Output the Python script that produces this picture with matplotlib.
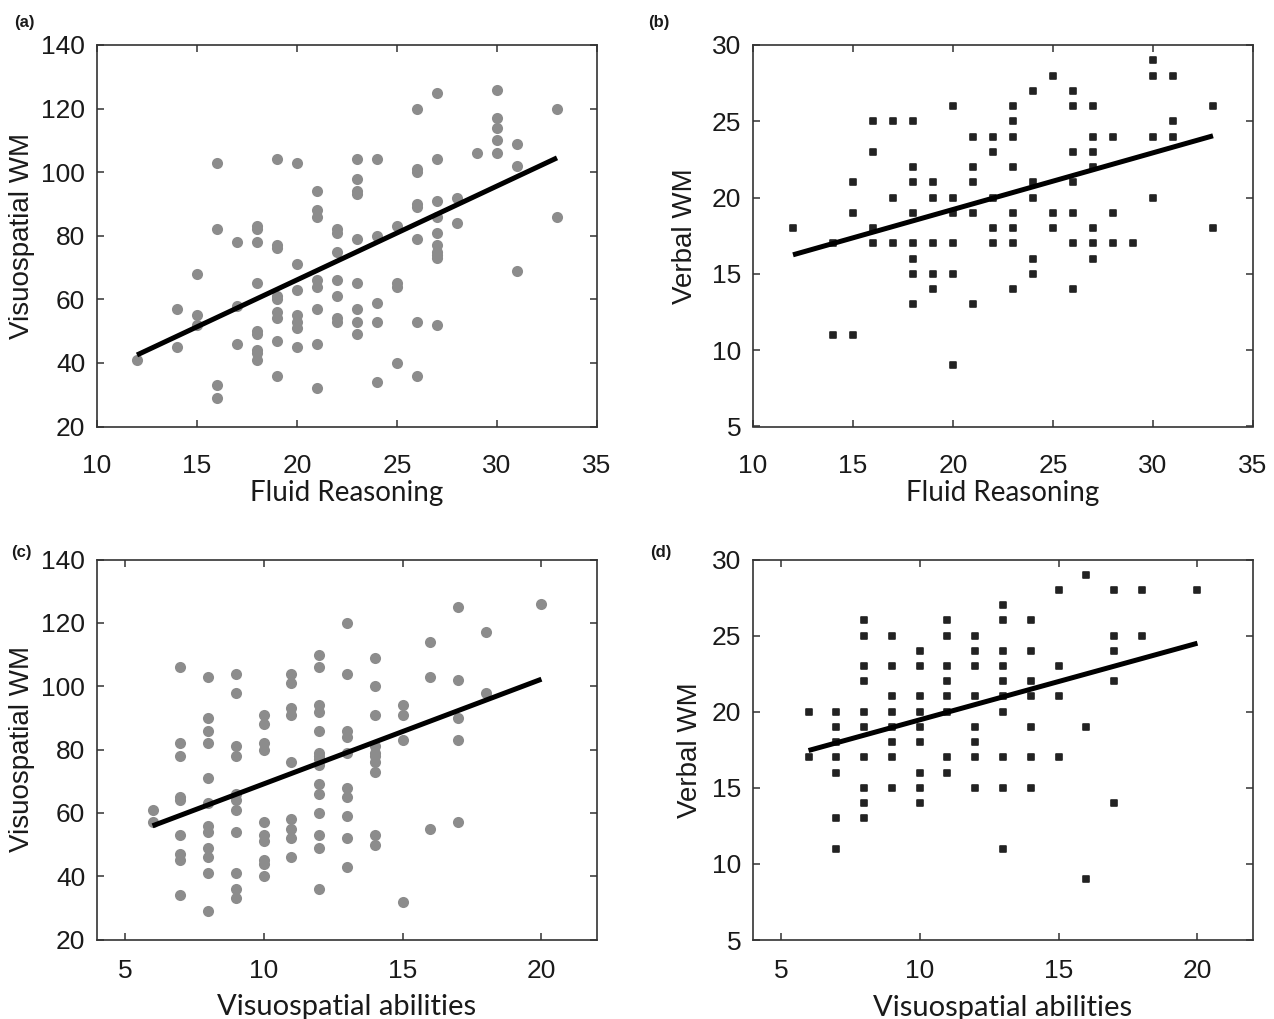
import matplotlib
matplotlib.use('Agg')
import matplotlib.pyplot as plt
from matplotlib.markers import MarkerStyle

plt.rcParams['font.family'] = ['Liberation Sans', 'DejaVu Sans']

# ---------------- data ----------------
# (a) Fluid Reasoning vs Visuospatial WM
a_x = [12,
       14, 14,
       15, 15, 15,
       16, 16, 16, 16,
       17, 17, 17,
       18, 18, 18, 18, 18, 18, 18, 18, 18,
       19, 19, 19, 19, 19, 19, 19, 19, 19,
       20, 20, 20, 20, 20, 20, 20,
       21, 21, 21, 21, 21, 21, 21, 21,
       22, 22, 22, 22, 22, 22, 22,
       23, 23, 23, 23, 23, 23, 23, 23, 23,
       24, 24, 24, 24, 24,
       25, 25, 25, 25,
       26, 26, 26, 26, 26, 26, 26, 26,
       27, 27, 27, 27, 27, 27, 27, 27, 27, 27,
       28, 28,
       29,
       30, 30, 30, 30, 30,
       31, 31, 31,
       33, 33]
a_y = [41,
       57, 45,
       68, 55, 52,
       103, 82, 33, 29,
       78, 58, 46,
       83, 82, 78, 65, 50, 49, 44, 43, 41,
       104, 77, 76, 61, 60, 56, 54, 47, 36,
       103, 71, 63, 55, 53, 51, 45,
       94, 88, 86, 66, 64, 57, 46, 32,
       82, 81, 75, 66, 61, 54, 53,
       104, 98, 94, 93, 79, 65, 57, 53, 49,
       104, 80, 59, 53, 34,
       83, 65, 64, 40,
       120, 101, 100, 90, 89, 79, 53, 36,
       125, 104, 91, 86, 81, 77, 75, 74, 73, 52,
       92, 84,
       106,
       126, 117, 114, 110, 106,
       109, 102, 69,
       120, 86]
a_fit_x = [12, 33]
a_fit_y = [42.5, 104.5]

# (b) Fluid Reasoning vs Verbal WM
b_x = [12,
       14, 14,
       15, 15, 15,
       16, 16, 16, 16,
       17, 17, 17,
       18, 18, 18, 18, 18, 18, 18, 18,
       19, 19, 19, 19, 19,
       20, 20, 20, 20, 20, 20,
       21, 21, 21, 21, 21,
       22, 22, 22, 22, 22,
       23, 23, 23, 23, 23, 23, 23, 23,
       24, 24, 24, 24, 24,
       25, 25, 25,
       26, 26, 26, 26, 26, 26, 26,
       27, 27, 27, 27, 27, 27, 27,
       28, 28, 28,
       29,
       30, 30, 30, 30,
       31, 31, 31,
       33, 33]
b_y = [18,
       17, 11,
       21, 19, 11,
       25, 23, 18, 17,
       25, 20, 17,
       25, 22, 21, 19, 17, 16, 15, 13,
       21, 20, 17, 15, 14,
       26, 20, 19, 17, 15, 9,
       24, 22, 21, 19, 13,
       24, 23, 20, 18, 17,
       26, 25, 24, 22, 19, 18, 17, 14,
       27, 21, 20, 16, 15,
       28, 19, 18,
       27, 26, 23, 21, 19, 17, 14,
       26, 24, 23, 22, 18, 17, 16,
       24, 19, 17,
       17,
       29, 28, 24, 20,
       28, 25, 24,
       26, 18]
b_fit_x = [12, 33]
b_fit_y = [16.25, 24.05]

# (c) Visuospatial abilities vs Visuospatial WM
c_x = [6, 6,
       7, 7, 7, 7, 7, 7, 7, 7, 7,
       8, 8, 8, 8, 8, 8, 8, 8, 8, 8, 8, 8,
       9, 9, 9, 9, 9, 9, 9, 9, 9, 9, 9,
       10, 10, 10, 10, 10, 10, 10, 10, 10, 10,
       11, 11, 11, 11, 11, 11, 11, 11, 11,
       12, 12, 12, 12, 12, 12, 12, 12, 12, 12, 12, 12, 12, 12, 12,
       13, 13, 13, 13, 13, 13, 13, 13, 13, 13,
       14, 14, 14, 14, 14, 14, 14, 14, 14, 14,
       15, 15, 15, 15,
       16, 16, 16,
       17, 17, 17, 17, 17,
       18, 18,
       20]
c_y = [61, 57,
       106, 82, 78, 65, 64, 53, 47, 45, 34,
       103, 90, 86, 82, 71, 63, 56, 54, 49, 46, 41, 29,
       104, 98, 81, 78, 66, 64, 61, 54, 41, 36, 33,
       91, 88, 82, 80, 57, 53, 51, 45, 44, 40,
       104, 101, 93, 91, 76, 58, 55, 52, 46,
       110, 106, 94, 92, 86, 79, 78, 77, 75, 69, 66, 60, 53, 49, 36,
       120, 104, 86, 84, 79, 68, 65, 59, 52, 43,
       109, 100, 91, 81, 79, 78, 76, 73, 53, 50,
       94, 91, 83, 32,
       114, 103, 55,
       125, 102, 90, 83, 57,
       117, 98,
       126]
c_fit_x = [6, 20]
c_fit_y = [55.9, 102.2]

# (d) Visuospatial abilities vs Verbal WM
d_x = [6, 6,
       7, 7, 7, 7, 7, 7, 7,
       8, 8, 8, 8, 8, 8, 8, 8, 8, 8,
       9, 9, 9, 9, 9, 9, 9, 9,
       10, 10, 10, 10, 10, 10, 10, 10, 10,
       11, 11, 11, 11, 11, 11, 11, 11,
       12, 12, 12, 12, 12, 12, 12, 12,
       13, 13, 13, 13, 13, 13, 13, 13, 13, 13,
       14, 14, 14, 14, 14, 14, 14,
       15, 15, 15, 15,
       16, 16, 16,
       17, 17, 17, 17, 17,
       18, 18,
       20]
d_y = [20, 17,
       20, 19, 18, 17, 16, 13, 11,
       26, 25, 23, 22, 20, 19, 17, 15, 14, 13,
       25, 23, 21, 20, 19, 18, 17, 15,
       24, 23, 21, 20, 19, 18, 16, 15, 14,
       26, 25, 23, 22, 21, 20, 17, 16,
       25, 24, 23, 21, 19, 18, 17, 15,
       27, 26, 24, 23, 22, 21, 20, 17, 15, 11,
       26, 24, 22, 21, 19, 17, 15,
       28, 23, 21, 17,
       29, 19, 9,
       28, 25, 24, 22, 14,
       28, 25,
       28]
d_fit_x = [6, 20]
d_fit_y = [17.45, 24.5]

fluid_ticks = [10, 15, 20, 25, 30, 35]
vis_ticks = [5, 10, 15, 20]
vswm_ticks = [20, 40, 60, 80, 100, 120, 140]
verbal_ticks = [5, 10, 15, 20, 25, 30]

# ---------------- figure ----------------
W, H = 1274, 1019
fig = plt.figure(figsize=(W / 100, H / 100), dpi=100)

def px_axes(l, t, r, b):
    return fig.add_axes([l / W, 1 - b / H, (r - l) / W, (b - t) / H])

ax_a = px_axes(97, 45, 597, 426.5)
ax_b = px_axes(753, 45, 1253, 426.5)
ax_c = px_axes(97, 559.5, 597, 939.5)
ax_d = px_axes(753, 559.5, 1253, 940)

GRAY = '#8c8c8c'
DARK = '#222222'
TXT = '#1a1a1a'

def style(ax, xlim, ylim, xticks, yticks, xpad):
    ax.set_xlim(xlim)
    ax.set_ylim(ylim)
    ax.set_xticks(xticks)
    ax.set_yticks(yticks)
    ax.tick_params(direction='in', length=5, width=1.1, top=True, right=True,
                   labelsize=19, color='#333333', labelcolor=TXT)
    ax.tick_params(axis='x', pad=xpad)
    ax.tick_params(axis='y', pad=8.5)
    for s in ax.spines.values():
        s.set_linewidth(1.2)
        s.set_color('#333333')

sq = MarkerStyle('s', joinstyle='round')

# (a)
ax_a.plot(a_x, a_y, 'o', ms=8, color=GRAY, mec='none', zorder=2)
ax_a.plot(a_fit_x, a_fit_y, color='black', lw=3.6, solid_capstyle='butt', zorder=3)
style(ax_a, (10, 35), (20, 140), fluid_ticks, vswm_ticks, 20)

# (b)
ax_b.plot(b_x, b_y, linestyle='none', marker=sq, ms=4.6, color=DARK, mec=DARK, mew=1.2, zorder=2)
ax_b.plot(b_fit_x, b_fit_y, color='black', lw=3.6, solid_capstyle='butt', zorder=3)
style(ax_b, (10, 35), (5, 30), fluid_ticks, verbal_ticks, 20)

# (c)
ax_c.plot(c_x, c_y, 'o', ms=8, color=GRAY, mec='none', zorder=2)
ax_c.plot(c_fit_x, c_fit_y, color='black', lw=3.6, solid_capstyle='butt', zorder=3)
style(ax_c, (4, 22), (20, 140), vis_ticks, vswm_ticks, 14)

# (d)
ax_d.plot(d_x, d_y, linestyle='none', marker=sq, ms=4.6, color=DARK, mec=DARK, mew=1.2, zorder=2)
ax_d.plot(d_fit_x, d_fit_y, color='black', lw=3.6, solid_capstyle='butt', zorder=3)
style(ax_d, (4, 22), (5, 30), vis_ticks, verbal_ticks, 14)

# axis labels
ax_a.set_xlabel('Fluid Reasoning', fontfamily='Lato', fontsize=20, va='center', color=TXT)
ax_a.xaxis.set_label_coords(0.5, -0.175)
ax_b.set_xlabel('Fluid Reasoning', fontfamily='Lato', fontsize=20, va='center', color=TXT)
ax_b.xaxis.set_label_coords(0.5, -0.175)
ax_c.set_xlabel('Visuospatial abilities', fontfamily='Lato', fontsize=21, va='center', color=TXT)
ax_c.xaxis.set_label_coords(0.5, -0.178)
ax_d.set_xlabel('Visuospatial abilities', fontfamily='Lato', fontsize=21, va='center', color=TXT)
ax_d.xaxis.set_label_coords(0.5, -0.178)

ax_a.set_ylabel('Visuospatial WM', fontsize=20, va='center', ha='center', color=TXT)
ax_a.yaxis.set_label_coords(-0.15, 0.5)
ax_b.set_ylabel('Verbal WM', fontsize=20, va='center', ha='center', color=TXT)
ax_b.yaxis.set_label_coords(-0.136, 0.5)
ax_c.set_ylabel('Visuospatial WM', fontsize=20, va='center', ha='center', color=TXT)
ax_c.yaxis.set_label_coords(-0.15, 0.5)
ax_d.set_ylabel('Verbal WM', fontsize=20, va='center', ha='center', color=TXT)
ax_d.yaxis.set_label_coords(-0.126, 0.5)

# panel tags
for tag, x, y in [('(a)', 14, 22), ('(b)', 648, 22), ('(c)', 11, 553), ('(d)', 650, 553)]:
    fig.text(x / W, 1 - y / H, tag, fontsize=12, fontweight='bold',
             ha='left', va='center', color=TXT)

fig.savefig('out.png', dpi=100)
